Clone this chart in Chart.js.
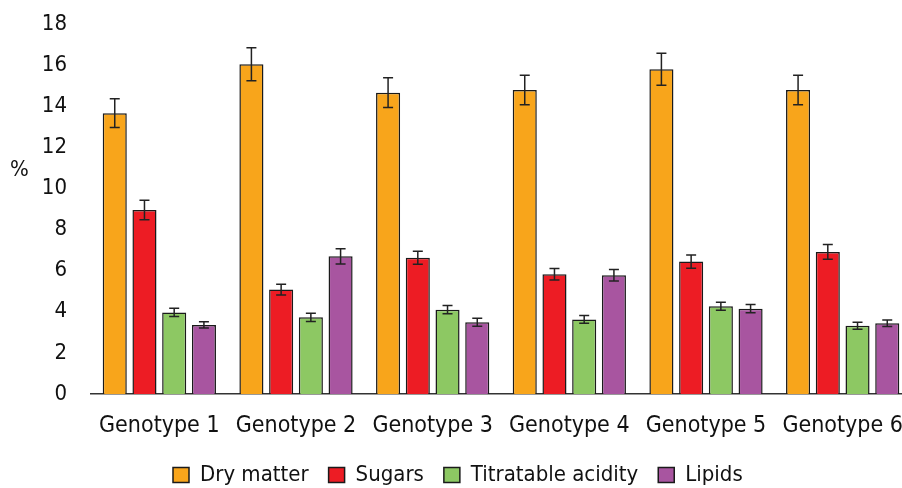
<!DOCTYPE html>
<html>
<head>
<meta charset="utf-8">
<script src="https://cdn.jsdelivr.net/npm/chart.js@4.4.1/dist/chart.umd.min.js"></script>
<style>
  html, body { margin:0; padding:0; background:#fff; overflow:hidden; }
  #wrap { position:relative; width:911px; height:488px; }
</style>
</head>
<body>
<div id="wrap"><canvas id="chart"></canvas></div>
<script>
const genotypes = ["Genotype 1","Genotype 2","Genotype 3","Genotype 4","Genotype 5","Genotype 6"];
const seriesNames = ["Dry matter","Sugars","Titratable acidity","Lipids"];

const dryMatter = [13.66, 16.04, 14.66, 14.79, 15.8, 14.79];
const sugars    = [8.95, 5.08, 6.63, 5.82, 6.44, 6.91];
const acidity   = [3.97, 3.73, 4.10, 3.63, 4.27, 3.32];
const lipids    = [3.36, 6.70, 3.49, 5.78, 4.15, 3.44];

// standard deviations (error bars)
const dryMatterErr = [0.70, 0.80, 0.72, 0.72, 0.78, 0.72];
const sugarsErr    = [0.47, 0.26, 0.32, 0.28, 0.32, 0.36];
const acidityErr   = [0.20, 0.20, 0.20, 0.19, 0.19, 0.17];
const lipidsErr    = [0.15, 0.37, 0.20, 0.28, 0.20, 0.16];

const yTicks = [0,2,4,6,8,10,12,14,16,18];

const colors = ["#F8A51B","#ED1C24","#8DC863","#A855A0"];
const FONT = "'DejaVu Sans Condensed', 'DejaVu Sans', sans-serif";

const values = [dryMatter, sugars, acidity, lipids];
const errors = [dryMatterErr, sugarsErr, acidityErr, lipidsErr];

/* error bars drawn from the y scale */
const errorBars = {
  id:"errorBars",
  afterDatasetsDraw(chart){
    const {ctx, scales:{y}} = chart;
    ctx.save();
    ctx.strokeStyle = "#222";
    ctx.lineWidth = 1.5;
    chart.data.datasets.forEach((ds,i)=>{
      const meta = chart.getDatasetMeta(i);
      meta.data.forEach((bar,j)=>{
        const v = ds.data[j], e = ds.err[j];
        const top = y.getPixelForValue(v+e), bot = y.getPixelForValue(v-e);
        const x = bar.x, w = 5;
        ctx.beginPath();
        ctx.moveTo(x,top); ctx.lineTo(x,bot);
        ctx.moveTo(x-w,top); ctx.lineTo(x+w,top);
        ctx.moveTo(x-w,bot); ctx.lineTo(x+w,bot);
        ctx.stroke();
      });
    });
    ctx.restore();
  }
};

/* "%" axis label, horizontal */
const percentLabel = {
  id:"percentLabel",
  afterDraw(chart){
    const ctx = chart.ctx;
    ctx.save();
    ctx.font = "22px " + FONT;
    ctx.fillStyle = "#111";
    ctx.textBaseline = "middle";
    ctx.fillText("%", 10, 170);
    ctx.restore();
  }
};

/* legend: fixed height, moved right like the original */
const legendShift = {
  id:"legendShift",
  beforeLayout(chart){
    const lg = chart.legend;
    if(lg && !lg._patched){
      const fit = lg.fit.bind(lg);
      lg.fit = function(){ fit(); this.height = 44; };
      lg._patched = true;
    }
  },
  afterLayout(chart){
    const lg = chart.legend;
    const dx = 153;
    lg.left += dx; lg.right += dx;
  }
};

new Chart(document.getElementById("chart"),{
  type:"bar",
  data:{
    labels:genotypes,
    datasets:seriesNames.map((name,i)=>({
      label:name,
      data:values[i],
      err:errors[i],
      backgroundColor:colors[i],
      borderColor:"#1a1a1a",
      borderWidth:1.5,
      categoryPercentage:0.87,
      barPercentage:0.81
    }))
  },
  options:{
    responsive:true,
    maintainAspectRatio:false,
    animation:false,
    layout:{padding:{left:0,right:0,top:24,bottom:0}},
    plugins:{
      tooltip:{enabled:false},
      legend:{
        position:"bottom",
        align:"start",
        labels:{
          boxWidth:16, boxHeight:15, padding:20,
          color:"#111",
          font:{family:FONT, size:22}
        }
      }
    },
    scales:{
      x:{
        grid:{display:false, drawTicks:false},
        border:{display:true, color:"#333", width:1.5},
        ticks:{color:"#111", padding:18, maxRotation:0, autoSkip:false, font:{family:FONT, size:23}},
        afterFit(s){ s.height = 50; s.paddingLeft = 0; s.paddingRight = 0; }
      },
      y:{
        min:0, max:18,
        afterBuildTicks(s){ s.ticks = yTicks.map(v=>({value:v})); },
        grid:{display:false, drawTicks:false},
        border:{display:false},
        ticks:{color:"#111", padding:24, font:{family:FONT, size:22}},
        afterFit(s){ s.width = 91; s.paddingTop = 0; s.paddingBottom = 0; }
      }
    }
  },
  plugins:[errorBars, percentLabel, legendShift]
});
</script>
</body>
</html>
